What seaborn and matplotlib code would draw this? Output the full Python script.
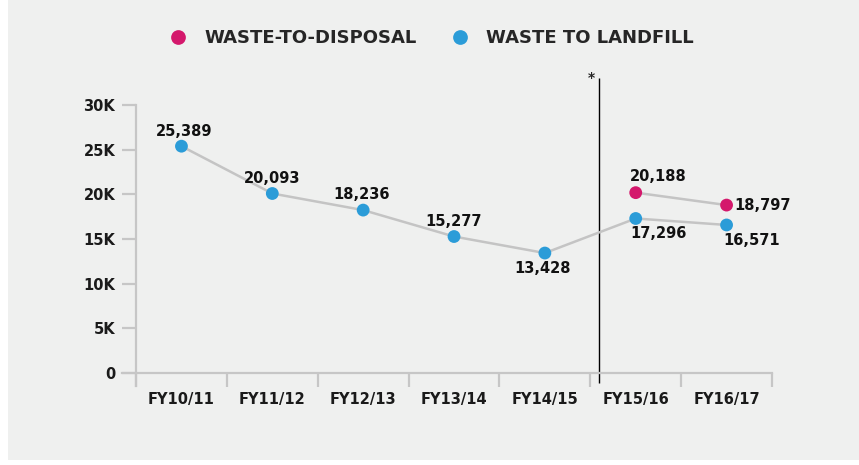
import numpy as np
import pandas as pd
import matplotlib
matplotlib.use("Agg")
import matplotlib.pyplot as plt
import seaborn as sns
from matplotlib.patches import Rectangle

# data
years = ["FY10/11", "FY11/12", "FY12/13", "FY13/14", "FY14/15", "FY15/16", "FY16/17"]
landfill = [25389, 20093, 18236, 15277, 13428, 17296, 16571]
disposal_years = ["FY15/16", "FY16/17"]
disposal = [20188, 18797]
y_ticks = [0, 5000, 10000, 15000, 20000, 25000, 30000]
y_tick_labels = ["0", "5K", "10K", "15K", "20K", "25K", "30K"]

series_names = ["WASTE-TO-DISPOSAL", "WASTE TO LANDFILL"]
colors = {"WASTE-TO-DISPOSAL": "#d4186c", "WASTE TO LANDFILL": "#2b9cd8"}

df = pd.concat([
    pd.DataFrame({"year": disposal_years, "value": disposal, "series": series_names[0]}),
    pd.DataFrame({"year": years, "value": landfill, "series": series_names[1]}),
], ignore_index=True)
df["x"] = df["year"].map({y: i for i, y in enumerate(years)})

sns.set_theme(style="ticks")
plt.rcParams['font.family'] = ['DejaVu Sans']
plt.rcParams['font.weight'] = 'bold'

bg = "#eff0ef"
axis_col = "#c6c6c6"

fig = plt.figure(figsize=(8.59, 4.65), dpi=100, facecolor="white")
fig.patches.append(Rectangle((8 / 859, 5 / 465), 1, 1, transform=fig.transFigure,
                             facecolor=bg, edgecolor="none", zorder=-10))
ax = fig.add_axes([122.4 / 859, (465 - 386.4) / 465, (772 - 122.4) / 859, (386.4 - 105) / 465])
ax.set_facecolor("none")

# gray connecting lines, then colored points
sns.lineplot(data=df, x="x", y="value", units="series", estimator=None,
             color="#c4c4c4", linewidth=1.8, ax=ax, legend=False, zorder=2)
sns.scatterplot(data=df, x="x", y="value", hue="series", hue_order=series_names,
                palette=colors, s=85, edgecolor="none", ax=ax, zorder=3)

handles, labels = ax.get_legend_handles_labels()
ax.get_legend().remove()
fig.legend(handles, labels, loc="center", bbox_to_anchor=(427 / 859, 1 - 38 / 465),
           ncol=2, frameon=False, handletextpad=0.45, columnspacing=1.4,
           markerscale=1.15, prop={"weight": "bold", "size": 13})

ax.set_xlim(-0.65, 6.5)
ax.set_ylim(-1500, 30000)
for s in ["top", "right"]:
    ax.spines[s].set_visible(False)
ax.spines["left"].set_position(("data", -0.5))
ax.spines["bottom"].set_position(("data", 0))
for s in ["left", "bottom"]:
    ax.spines[s].set_color(axis_col)
    ax.spines[s].set_linewidth(1.6)

ax.set_yticks(y_ticks)
ax.set_yticklabels(y_tick_labels)
ax.set_xticks(np.arange(-0.5, len(years), 1))
ax.set_xticklabels([])
ax.set_xticks(range(len(years)), minor=True)
ax.set_xticklabels(years, minor=True)
ax.tick_params(axis="both", which="major", length=10, width=1.6, color=axis_col,
               direction="out", labelsize=10.5, labelcolor="#1a1a1a",
               bottom=True, left=True)
ax.tick_params(axis="y", pad=5)
ax.tick_params(axis="x", which="minor", length=0, pad=14, labelsize=10.5, labelcolor="#1a1a1a")
for t in ax.get_xticklabels(minor=True) + ax.get_yticklabels():
    t.set_fontweight("bold")
ax.set_xlabel("")
ax.set_ylabel("")

# value labels
offsets = {
    ("WASTE TO LANDFILL", 0): (3, 7, "center", "bottom"),
    ("WASTE TO LANDFILL", 1): (0, 8, "center", "bottom"),
    ("WASTE TO LANDFILL", 2): (-2, 8, "center", "bottom"),
    ("WASTE TO LANDFILL", 3): (0, 8, "center", "bottom"),
    ("WASTE TO LANDFILL", 4): (-2, -8, "center", "top"),
    ("WASTE TO LANDFILL", 5): (-5, -8, "left", "top"),
    ("WASTE TO LANDFILL", 6): (-3, -8, "left", "top"),
    ("WASTE-TO-DISPOSAL", 5): (-6, 9, "left", "bottom"),
    ("WASTE-TO-DISPOSAL", 6): (8, 0, "left", "center"),
}
for _, r in df.iterrows():
    dx, dy, ha, va = offsets[(r["series"], r["x"])]
    ax.annotate(f"{r['value']:,}", (r["x"], r["value"]), xytext=(dx, dy),
                textcoords="offset pixels", ha=ha, va=va, fontsize=10.5,
                fontweight="bold", color="#111111")

# divider marking the change in reporting
ax.vlines(4.6, -1100, 33000, color="black", linewidth=1, clip_on=False, zorder=1)
ax.annotate("*", (4.6, 33000), xytext=(-4, 0), textcoords="offset pixels",
            ha="right", va="center", fontsize=10, fontweight="bold", annotation_clip=False)

fig.savefig("out.png", dpi=100, facecolor="white")
